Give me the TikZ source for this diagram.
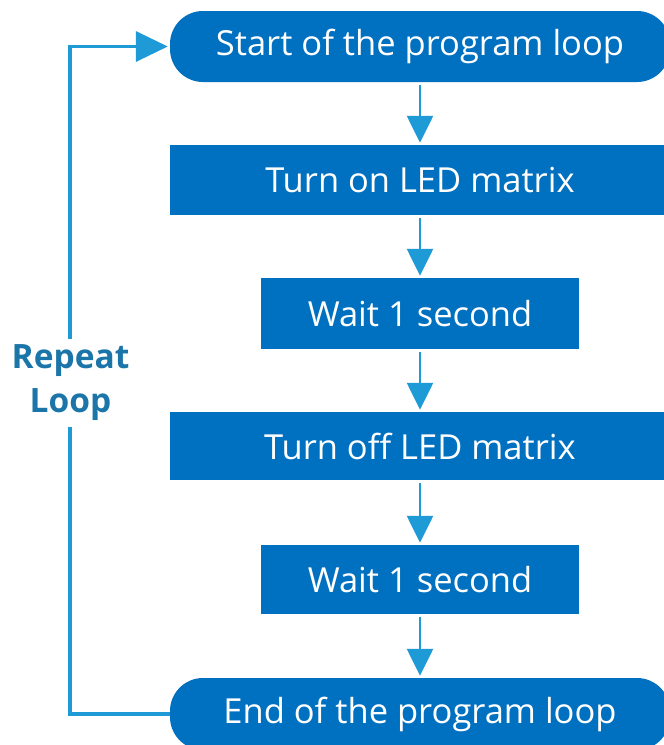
\documentclass[tikz,border=0pt]{standalone}
\usepackage{fontspec}
\setmainfont{Open Sans}
\usetikzlibrary{arrows.meta}
\definecolor{boxblue}{HTML}{0070C0}
\definecolor{arrblue}{HTML}{1E9AD6}
\definecolor{lblblue}{HTML}{1B75A8}
\begin{document}
\begin{tikzpicture}[x=1pt,y=-1pt,
  box/.style={fill=boxblue, text=white, font=\fontsize{34.5}{40}\selectfont, inner sep=0pt},
  term/.style={box, rounded corners=33pt},
  flow/.style={draw=arrblue, line width=2.5pt, shorten <=3pt, shorten >=2pt, -{Triangle[length=27pt,width=26pt]}},
  loopline/.style={draw=arrblue, line width=3.5pt, shorten >=2pt, -{Triangle[length=32pt,width=30pt]}},
  lbl/.style={text=lblblue, font=\bfseries\fontsize{33.5}{44}\selectfont, fill=white, align=center, inner sep=0pt, minimum height=88pt, minimum width=40pt}]
\useasboundingbox (0,0) rectangle (664,745);
\node[term, minimum width=500pt, minimum height=71pt] (start) at (420,46.5) {Start of the program loop};
\node[box, minimum width=500pt, minimum height=70pt] (on) at (420,180) {Turn on LED matrix};
\node[box, minimum width=318pt, minimum height=71pt] (w1) at (420,313.5) {Wait 1 second};
\node[box, minimum width=500pt, minimum height=68pt] (off) at (420,446) {Turn off LED matrix};
\node[box, minimum width=318pt, minimum height=69pt] (w2) at (420,579.5) {Wait 1 second};
\node[term, minimum width=500pt, minimum height=72pt] (end) at (420,714) {End of the program loop};
\draw[flow] (start) -- (on);
\draw[flow] (on) -- (w1);
\draw[flow] (w1) -- (off);
\draw[flow] (off) -- (w2);
\draw[flow] (w2) -- (end);
\coordinate (lb) at (70,714);
\coordinate (lt) at (70,46.5);
\draw[loopline] (end.west) -- (lb) -- (lt) -- (start.west);
\node[lbl] (rep) at (70.5,383) {Repeat\\Loop};
\end{tikzpicture}
\end{document}
